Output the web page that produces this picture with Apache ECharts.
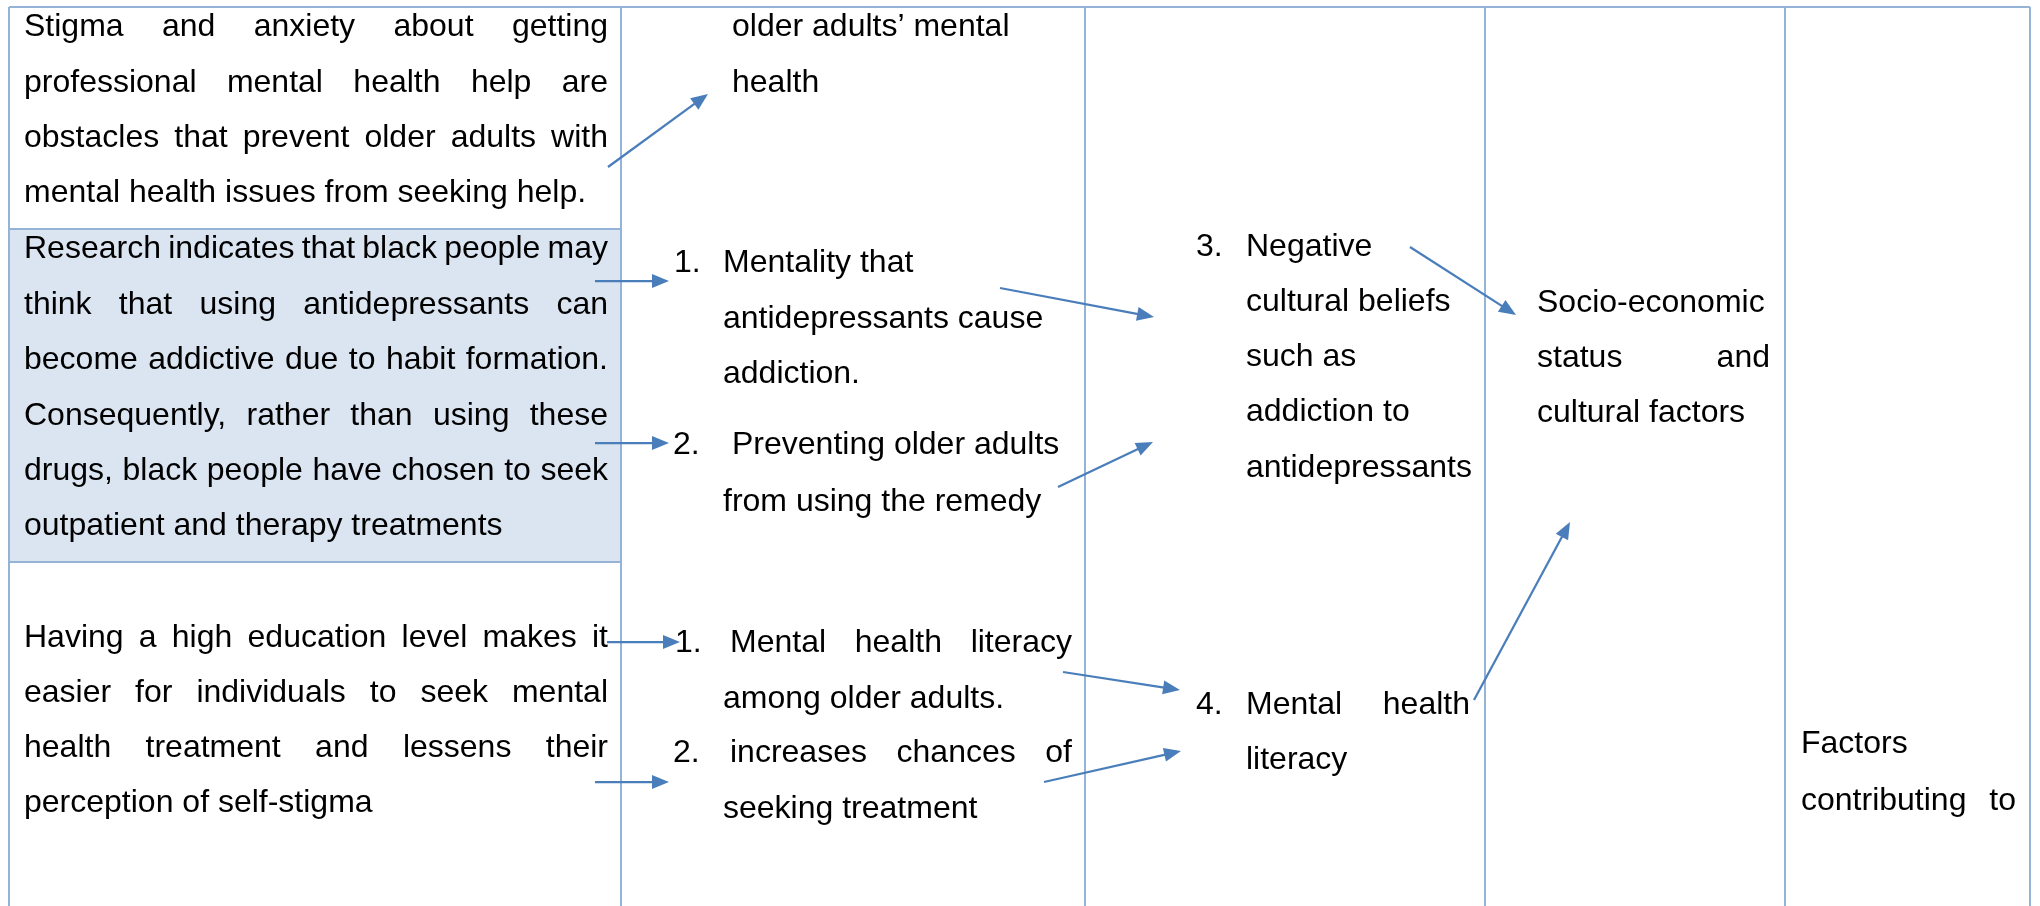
<!DOCTYPE html>
<html>
<head>
<meta charset="utf-8">
<title>Factors diagram</title>
<script src="https://cdn.jsdelivr.net/npm/echarts@6/dist/echarts.min.js"></script>
<style>
  html, body { margin: 0; padding: 0; background: #fff; }
  #main { width: 2040px; height: 906px; }
</style>
</head>
<body>
<div id="main"></div>
<script>
// text lines, one entry per printed line
const textLines = [
  // column 1
  'Stigma and anxiety about getting', 'professional mental health help are',
  'obstacles that prevent older adults with', 'mental health issues from seeking help.',
  'Research indicates that black people may', 'think that using antidepressants can',
  'become addictive due to habit formation.', 'Consequently, rather than using these',
  'drugs, black people have chosen to seek', 'outpatient and therapy treatments',
  'Having a high education level makes it', 'easier for individuals to seek mental',
  'health treatment and lessens their', 'perception of self-stigma',
  // column 2
  'older adults\u2019 mental', 'health',
  '1.', 'Mentality that', 'antidepressants cause', 'addiction.',
  '2.', 'Preventing older adults', 'from using the remedy',
  '1.', 'Mental health literacy', 'among older adults.',
  '2.', 'increases chances of', 'seeking treatment',
  // column 3
  '3.', 'Negative', 'cultural beliefs', 'such as', 'addiction to', 'antidepressants',
  '4.', 'Mental health', 'literacy',
  // column 4
  'Socio-economic', 'status and', 'cultural factors',
  // column 5
  'Factors', 'contributing to'
];

// where each line sits: [x left, y middle, right edge when justified (0 = not)]
const lineLayout = [
  [24, 27, 608], [24, 83, 608], [24, 138, 608], [24, 193, 0],
  [24, 249, 608], [24, 305, 608], [24, 360, 608], [24, 416, 608], [24, 471, 608], [24, 526, 0],
  [24, 638, 608], [24, 693, 608], [24, 748, 608], [24, 803, 0],
  [732, 27, 0], [732, 83, 0],
  [674, 263, 0], [723, 263, 0], [723, 319, 0], [723, 374, 0],
  [673, 445, 0], [732, 445, 0], [723, 502, 0],
  [675, 643, 0], [730, 643, 1072], [723, 699, 0],
  [673, 753, 0], [730, 753, 1072], [723, 809, 0],
  [1196, 247, 0], [1246, 247, 0], [1246, 302, 0], [1246, 357, 0], [1246, 412, 0], [1246, 468, 0],
  [1196, 705, 0], [1246, 705, 1470], [1246, 760, 0],
  [1537, 303, 0], [1537, 358, 1770], [1537, 413, 0],
  [1801, 744, 0], [1801, 801, 2016]
];

// table rules
const colEdges = [9, 621, 1085, 1485, 1785, 2030];
const tableTop = 7;
const tableBottom = 906;
const firstColRows = [229, 562];
// shaded cell [x1, y1, x2, y2]
const shadedCells = [[9, 229, 621, 562]];

// arrows [x from, y from, x tip, y tip]
const arrows = [
  [608, 167, 708, 94],
  [595, 281, 669, 281],
  [595, 443, 669, 443],
  [1000, 288, 1154, 317],
  [1058, 487, 1153, 442],
  [1410, 247, 1516, 315],
  [1474, 700, 1570, 522],
  [607, 642, 680, 642],
  [595, 782, 669, 782],
  [1063, 672, 1180, 690],
  [1044, 782, 1181, 751]
];

const FONT_SIZE = 32;
const FONT_FAMILY = '"Liberation Sans", Arial, sans-serif';
const RULE_COLOR = '#95B3D7';
const ARROW_COLOR = '#4A7EBB';

const measureCtx = document.createElement('canvas').getContext('2d');
measureCtx.font = FONT_SIZE + 'px ' + FONT_FAMILY;

const ruleData = [];
ruleData.push({ coords: [[colEdges[0], tableTop], [colEdges[colEdges.length - 1], tableTop]] });
colEdges.forEach(x => ruleData.push({ coords: [[x, tableTop], [x, tableBottom]] }));
firstColRows.forEach(y => ruleData.push({ coords: [[colEdges[0], y], [colEdges[1], y]] }));

const chart = echarts.init(document.getElementById('main'));

chart.setOption({
  animation: false,
  backgroundColor: '#fff',
  grid: { left: 0, right: 0, top: 0, bottom: 0 },
  xAxis: { type: 'value', min: 0, max: 2040, show: false },
  yAxis: { type: 'value', min: 0, max: 906, inverse: true, show: false },
  series: [
    {
      type: 'custom',
      coordinateSystem: 'cartesian2d',
      data: shadedCells,
      silent: true,
      z: 1,
      renderItem(params, api) {
        const p1 = api.coord([api.value(0), api.value(1)]);
        const p2 = api.coord([api.value(2), api.value(3)]);
        return {
          type: 'rect',
          shape: { x: p1[0], y: p1[1], width: p2[0] - p1[0], height: p2[1] - p1[1] },
          style: { fill: '#DBE5F1' }
        };
      }
    },
    {
      type: 'lines',
      coordinateSystem: 'cartesian2d',
      data: ruleData,
      silent: true,
      z: 2,
      symbol: 'none',
      lineStyle: { color: RULE_COLOR, width: 2, opacity: 1 }
    },
    {
      type: 'custom',
      coordinateSystem: 'cartesian2d',
      data: textLines.map((t, i) => [lineLayout[i][0], lineLayout[i][1], lineLayout[i][2]]),
      silent: true,
      z: 3,
      renderItem(params, api) {
        const i = params.dataIndex;
        const text = textLines[i];
        const p = api.coord([api.value(0), api.value(1)]);
        const right = api.value(2);
        const base = {
          fill: '#000',
          fontSize: FONT_SIZE,
          fontFamily: FONT_FAMILY,
          verticalAlign: 'middle',
          align: 'left'
        };
        if (!right) {
          return { type: 'text', x: p[0], y: p[1], style: Object.assign({ text }, base) };
        }
        // justified line: spread the words between left and right edge
        const words = text.split(' ');
        const pr = api.coord([right, api.value(1)]);
        const widths = words.map(w => measureCtx.measureText(w).width);
        const total = widths.reduce((a, b) => a + b, 0);
        const gap = words.length > 1 ? (pr[0] - p[0] - total) / (words.length - 1) : 0;
        let x = p[0];
        const children = words.map((w, k) => {
          const el = { type: 'text', x, y: p[1], style: Object.assign({ text: w }, base) };
          x += widths[k] + gap;
          return el;
        });
        return { type: 'group', children };
      }
    },
    {
      type: 'custom',
      coordinateSystem: 'cartesian2d',
      data: arrows,
      silent: true,
      z: 4,
      renderItem(params, api) {
        const a = api.coord([api.value(0), api.value(1)]);
        const b = api.coord([api.value(2), api.value(3)]);
        const dx = b[0] - a[0];
        const dy = b[1] - a[1];
        const len = Math.sqrt(dx * dx + dy * dy);
        const ux = dx / len, uy = dy / len;
        const headLen = 17, headHalf = 7;
        const bx = b[0] - ux * headLen, by = b[1] - uy * headLen;
        return {
          type: 'group',
          children: [
            {
              type: 'line',
              shape: { x1: a[0], y1: a[1], x2: bx + ux, y2: by + uy },
              style: { stroke: ARROW_COLOR, lineWidth: 2.25 }
            },
            {
              type: 'polygon',
              shape: {
                points: [
                  [b[0], b[1]],
                  [bx - uy * headHalf, by + ux * headHalf],
                  [bx + uy * headHalf, by - ux * headHalf]
                ]
              },
              style: { fill: ARROW_COLOR }
            }
          ]
        };
      }
    }
  ]
});
</script>
</body>
</html>
